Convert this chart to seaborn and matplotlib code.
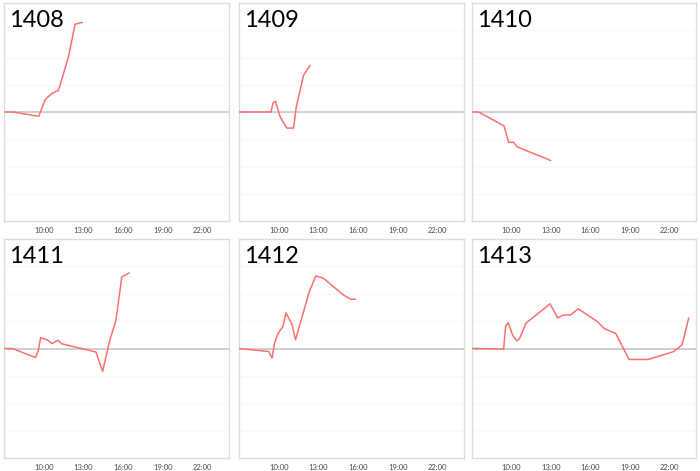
import matplotlib
matplotlib.use("Agg")
import matplotlib.pyplot as plt
import seaborn as sns
import pandas as pd

# -----------------------------
# Data (hour of day, value)
# -----------------------------
codes = ["1408", "1409", "1410", "1411", "1412", "1413"]

t_1408 = [7.0, 7.7, 9.62, 10.12, 10.62, 11.12, 11.87, 12.37, 12.92]
v_1408 = [0.0, 0.0, -0.16, 0.46, 0.68, 0.80, 2.02, 3.22, 3.29]

t_1409 = [7.0, 9.42, 9.57, 9.75, 10.12, 10.62, 11.12, 11.32, 11.87, 12.37]
v_1409 = [0.0, 0.0, 0.33, 0.40, -0.19, -0.59, -0.59, 0.17, 1.34, 1.71]

t_1410 = [7.0, 7.5, 9.43, 9.78, 10.15, 10.43, 12.97]
v_1410 = [0.0, 0.0, -0.51, -1.11, -1.11, -1.28, -1.78]

t_1411 = [7.0, 7.62, 9.38, 9.57, 9.77, 10.12, 10.37, 10.62, 11.07, 11.37,
          13.95, 14.45, 15.0, 15.45, 15.9, 16.45]
v_1411 = [0.0, 0.0, -0.33, -0.11, 0.39, 0.34, 0.28, 0.18, 0.30, 0.17,
          -0.13, -0.84, 0.32, 1.01, 2.61, 2.76]

t_1412 = [7.0, 9.25, 9.5, 9.7, 10.0, 10.32, 10.55, 11.0, 11.27, 12.3,
          12.8, 13.37, 14.87, 15.45, 15.8]
v_1412 = [0.0, -0.11, -0.35, 0.23, 0.59, 0.80, 1.30, 0.89, 0.32, 2.06,
          2.65, 2.57, 1.96, 1.80, 1.80]

t_1413 = [7.0, 9.4, 9.55, 9.75, 10.1, 10.4, 10.6, 11.1, 12.92, 13.5,
          13.93, 14.5, 15.06, 16.52, 17.03, 17.91, 18.92, 20.38, 22.32,
          22.95, 23.45]
v_1413 = [0.0, -0.02, 0.81, 0.94, 0.47, 0.28, 0.35, 0.93, 1.63, 1.12,
          1.22, 1.23, 1.45, 0.98, 0.73, 0.55, -0.40, -0.40, -0.11,
          0.14, 1.12]

times = [t_1408, t_1409, t_1410, t_1411, t_1412, t_1413]
values = [v_1408, v_1409, v_1410, v_1411, v_1412, v_1413]

tick_hours = [10, 13, 16, 19, 22]
tick_labels = ["10:00", "13:00", "16:00", "19:00", "22:00"]

# -----------------------------
# Plot
# -----------------------------
sns.set_style("white")
plt.rcParams['font.family'] = ['Lato', 'DejaVu Sans']

W, H = 700, 471
fig = plt.figure(figsize=(7, 4.71), dpi=100)

col_left = [4, 239, 472]
col_width = [225, 225, 224]
row_top = [3, 239]
row_height = [218, 219]

for i, code in enumerate(codes):
    r, c = divmod(i, 3)
    ax = fig.add_axes([col_left[c] / W, 1 - (row_top[r] + row_height[r]) / H,
                       col_width[c] / W, row_height[r] / H])
    df = pd.DataFrame({'time': times[i], 'value': values[i]})
    ax.axhline(0, color='#cfcfcf', lw=1.4, zorder=1)
    sns.lineplot(data=df, x='time', y='value', ax=ax, color='#ff6f6f',
                 lw=1.1, zorder=3)
    ax.set_xlim(7, 24)
    ax.set_ylim(-4, 4)
    ax.set_yticks([-3, -2, -1, 1, 2, 3])
    ax.yaxis.grid(True, color='#f9f9f9', lw=0.8)
    ax.set_yticklabels([])
    ax.set_xticks(tick_hours)
    ax.set_xticklabels(tick_labels, fontsize=5.5, color='#4a4a4a')
    ax.tick_params(axis='both', length=0, pad=4)
    ax.set_xlabel('')
    ax.set_ylabel('')
    for s in ax.spines.values():
        s.set_color('#dcdcdc')
        s.set_linewidth(1.0)
    ax.text(0.022, 0.97, code, transform=ax.transAxes, fontsize=17,
            va='top', ha='left', color='black')

fig.savefig('out.png', dpi=100)
